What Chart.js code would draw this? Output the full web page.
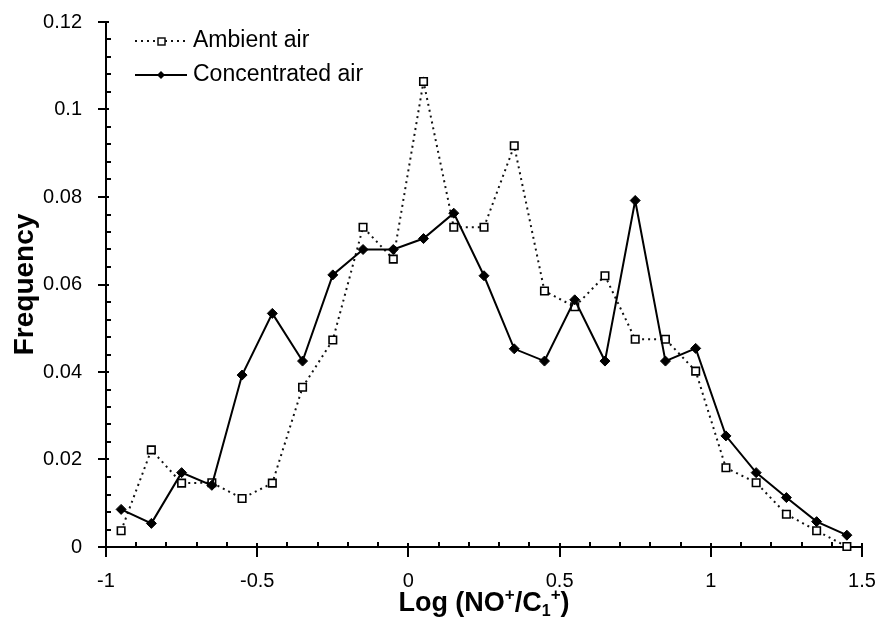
<!DOCTYPE html>
<html>
<head>
<meta charset="utf-8">
<script src="https://cdn.jsdelivr.net/npm/chart.js@4.4.0/dist/chart.umd.min.js"></script>
<style>
  html, body { margin: 0; padding: 0; background: #fff; }
  #wrap { width: 882px; height: 632px; }
</style>
</head>
<body>
<div id="wrap"><canvas id="c" width="882" height="632"></canvas></div>
<script>
const xValues = [-0.95, -0.85, -0.75, -0.65, -0.55, -0.45, -0.35, -0.25, -0.15, -0.05,
                 0.05, 0.15, 0.25, 0.35, 0.45, 0.55, 0.65, 0.75, 0.85, 0.95,
                 1.05, 1.15, 1.25, 1.35, 1.45];
const ambientAir = [0.0037, 0.0222, 0.0146, 0.0147, 0.0111, 0.0146, 0.0365, 0.0473, 0.0731, 0.0658,
                    0.1064, 0.0731, 0.0731, 0.0917, 0.0585, 0.0549, 0.0620, 0.0475, 0.0475, 0.0402,
                    0.0181, 0.0147, 0.0075, 0.0037, 0.0001];
const concentratedAir = [0.0086, 0.0054, 0.0170, 0.0141, 0.0393, 0.0534, 0.0425, 0.0622, 0.0680, 0.0680,
                         0.0705, 0.0763, 0.0620, 0.0453, 0.0425, 0.0565, 0.0425, 0.0792, 0.0425, 0.0454,
                         0.0254, 0.0170, 0.0113, 0.0058, 0.0027];
const seriesNames = ["Ambient air", "Concentrated air"];
const xTickLabels = ["-1", "-0.5", "0", "0.5", "1", "1.5"];
const yTickLabels = ["0", "0.02", "0.04", "0.06", "0.08", "0.1", "0.12"];
const yTitle = "Frequency";

const FONT = "'Liberation Sans', Arial, Helvetica, sans-serif";

function toPoints(ys) { return xValues.map((x, i) => ({ x: x, y: ys[i] })); }

const decorPlugin = {
  id: 'decor',
  afterDraw(chart) {
    const ctx = chart.ctx;
    const xs = chart.scales.x, ys = chart.scales.y;
    const area = chart.chartArea;
    ctx.save();
    ctx.strokeStyle = '#000';
    ctx.fillStyle = '#000';
    ctx.lineWidth = 2;
    // x ticks
    for (let k = 0; k <= 25; k++) {
      const v = -1 + k * 0.1;
      const px = Math.round(xs.getPixelForValue(v));
      ctx.beginPath();
      if (k % 5 === 0) { ctx.moveTo(px, area.bottom - 4); ctx.lineTo(px, area.bottom + 10); }
      else { ctx.moveTo(px, area.bottom - 5); ctx.lineTo(px, area.bottom); }
      ctx.stroke();
    }
    // y ticks
    for (let k = 0; k <= 30; k++) {
      const v = k * 0.004;
      const py = Math.round(ys.getPixelForValue(v));
      ctx.beginPath();
      if (k % 5 === 0) { ctx.moveTo(area.left - 8, py); ctx.lineTo(area.left + 3, py); }
      else { ctx.moveTo(area.left, py); ctx.lineTo(area.left + 5, py); }
      ctx.stroke();
    }

    // Y title
    ctx.save();
    ctx.translate(33, (area.top + area.bottom) / 2);
    ctx.rotate(-Math.PI / 2);
    ctx.font = "bold 28px " + FONT;
    ctx.textAlign = 'center';
    ctx.textBaseline = 'alphabetic';
    ctx.fillText(yTitle, 0, 0);
    ctx.restore();

    // X title with super/subscripts
    const parts = [
      { t: "Log (NO", f: "bold 27px " + FONT, dy: 0 },
      { t: "+", f: "bold 17px " + FONT, dy: -11 },
      { t: "/C", f: "bold 27px " + FONT, dy: 0 },
      { t: "1", f: "bold 16px " + FONT, dy: 5 },
      { t: "+", f: "bold 17px " + FONT, dy: -11 },
      { t: ")", f: "bold 27px " + FONT, dy: 0 }
    ];
    let total = 0;
    parts.forEach(p => { ctx.font = p.f; p.w = ctx.measureText(p.t).width; total += p.w; });
    let cx = (area.left + area.right) / 2 - total / 2;
    ctx.textAlign = 'left';
    ctx.textBaseline = 'alphabetic';
    parts.forEach(p => { ctx.font = p.f; ctx.fillText(p.t, cx, 611 + p.dy); cx += p.w; });

    // Legend
    const legendRows = [
      { y: 41, ds: chart.data.datasets[0] },
      { y: 75, ds: chart.data.datasets[1] }
    ];
    legendRows.forEach(row => {
      const ds = row.ds;
      ctx.save();
      ctx.strokeStyle = ds.borderColor;
      ctx.lineWidth = ds.borderWidth;
      ctx.setLineDash(ds.borderDash || []);
      ctx.beginPath();
      ctx.moveTo(135, row.y);
      ctx.lineTo(187, row.y);
      ctx.stroke();
      ctx.setLineDash([]);
      ctx.lineWidth = 1.5;
      if (ds.pointStyle === 'rect') {
        ctx.fillStyle = '#fff';
        ctx.fillRect(158, row.y - 3, 7, 7);
        ctx.strokeRect(158, row.y - 3, 7, 7);
      } else {
        ctx.fillStyle = '#000';
        ctx.beginPath();
        ctx.moveTo(161, row.y - 4); ctx.lineTo(165, row.y); ctx.lineTo(161, row.y + 4); ctx.lineTo(157, row.y);
        ctx.closePath(); ctx.fill();
      }
      ctx.restore();
      ctx.fillStyle = '#000';
      ctx.font = "23px " + FONT;
      ctx.textAlign = 'left';
      ctx.textBaseline = 'middle';
      ctx.fillText(ds.label, 193, row.y);
    });
    ctx.restore();
  }
};

new Chart(document.getElementById('c'), {
  type: 'line',
  data: {
    datasets: [
      {
        label: seriesNames[0],
        data: toPoints(ambientAir),
        borderColor: '#111',
        borderWidth: 2,
        borderDash: [2, 4],
        pointStyle: 'rect',
        pointRadius: 5.3,
        pointBorderWidth: 1.6,
        pointBackgroundColor: '#fff',
        pointBorderColor: '#000',
        tension: 0,
        clip: false,
        order: 1
      },
      {
        label: seriesNames[1],
        data: toPoints(concentratedAir),
        borderColor: '#000',
        borderWidth: 2,
        pointStyle: 'rectRot',
        pointRadius: 5,
        pointBorderWidth: 1,
        pointBackgroundColor: '#000',
        pointBorderColor: '#000',
        tension: 0,
        clip: false,
        order: 0
      }
    ]
  },
  options: {
    responsive: false,
    animation: false,
    devicePixelRatio: 1,
    layout: { padding: { left: 0, top: 22, right: 20, bottom: 0 } },
    plugins: { legend: { display: false }, tooltip: { enabled: false }, title: { display: false } },
    scales: {
      x: {
        type: 'linear',
        min: -1, max: 1.5,
        grid: { display: false },
        border: { display: true, color: '#000', width: 2 },
        ticks: {
          stepSize: 0.5,
          padding: 14,
          color: '#000',
          font: { family: FONT, size: 20 },
          maxRotation: 0,
          callback: (v, i) => xTickLabels[i]
        },
        afterFit: s => { s.height = 85; s.paddingLeft = 0; s.paddingRight = 0; }
      },
      y: {
        type: 'linear',
        min: 0, max: 0.12,
        grid: { display: false },
        border: { display: true, color: '#000', width: 2 },
        ticks: {
          stepSize: 0.02,
          padding: 16,
          color: '#000',
          font: { family: FONT, size: 20 },
          callback: (v, i) => yTickLabels[i]
        },
        afterFit: s => { s.width = 106; s.paddingTop = 0; s.paddingBottom = 0; }
      }
    }
  },
  plugins: [decorPlugin]
});
</script>
</body>
</html>
